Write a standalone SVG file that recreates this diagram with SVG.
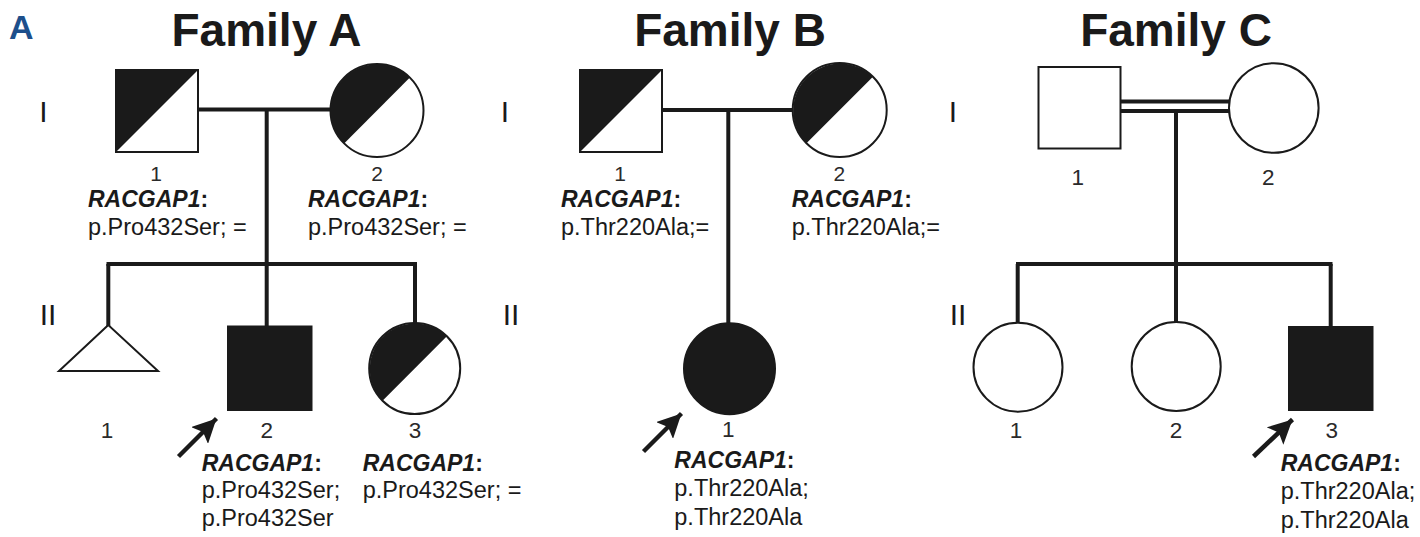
<svg xmlns="http://www.w3.org/2000/svg" width="1420" height="537" viewBox="0 0 1420 537">
  <style>
    .bg { fill: #ffffff; }
    .title { font-family: "Liberation Sans", Arial, sans-serif; font-weight: bold; font-size: 46px; fill: #1a1a1a; text-anchor: middle; }
    .panel { font-family: "Liberation Sans", Arial, sans-serif; font-weight: bold; font-size: 34px; fill: #1d4f8b; }
    .gen { font-family: "Liberation Sans", Arial, sans-serif; font-size: 30px; fill: #1a1a1a; text-anchor: middle; }
    .num { font-family: "Liberation Sans", Arial, sans-serif; font-size: 22.5px; fill: #2a2a2a; text-anchor: middle; }
    .num.tight { font-size: 21px; }
    .gene { font-family: "Liberation Sans", Arial, sans-serif; font-weight: bold; font-style: italic; font-size: 23px; fill: #1a1a1a; }
    .gene tspan.colon { font-style: normal; }
    .var { font-family: "Liberation Sans", Arial, sans-serif; font-size: 23.5px; fill: #1a1a1a; }
    .open { fill: #ffffff; stroke: #1a1a1a; stroke-width: 2; }
    .solid { fill: #1a1a1a; stroke: #1a1a1a; stroke-width: 2; }
    .half { fill: #1a1a1a; stroke: none; }
    .line { stroke: #1a1a1a; stroke-width: 4; fill: none; }
    .arrow { stroke: #1a1a1a; stroke-width: 4.5; fill: none; marker-end: url(#head); }
  </style>
  <defs>
    <marker id="head" markerUnits="userSpaceOnUse" markerWidth="26" markerHeight="24" refX="24" refY="12" orient="auto">
      <path d="M0,0 L24,12 L0,24 L5,12 Z" fill="#1a1a1a"/>
    </marker>
  </defs>
  <rect class="bg" x="0" y="0" width="1420" height="537"/>

  <!-- panel letter and family titles -->
  <text class="panel" x="9" y="39">A</text>
  <text class="title" x="266.5" y="46">Family A</text>
  <text class="title" x="730" y="46">Family B</text>
  <text class="title" x="1176" y="46">Family C</text>

  <!-- generation numerals -->
  <g id="generations">
    <text class="gen" x="43.5" y="122">I</text>
    <text class="gen" x="48" y="325">II</text>
    <text class="gen" x="505" y="122">I</text>
    <text class="gen" x="511" y="325">II</text>
    <text class="gen" x="953" y="122">I</text>
    <text class="gen" x="958" y="325">II</text>
  </g>

  <!-- connectors: mating, descent and sibship lines -->
  <g id="connectors">
    <!-- Family A -->
    <line class="line" x1="198" y1="109.5" x2="331" y2="109.5"/>
    <line class="line" x1="266.7" y1="109.5" x2="266.7" y2="264"/>
    <line class="line" x1="106.5" y1="264" x2="417" y2="264"/>
    <line class="line" x1="108.3" y1="264" x2="108.3" y2="326"/>
    <line class="line" x1="266.7" y1="264" x2="266.7" y2="327"/>
    <line class="line" x1="415" y1="264" x2="415" y2="324"/>
    <!-- Family B -->
    <line class="line" x1="662" y1="110" x2="793" y2="110"/>
    <line class="line" x1="728.3" y1="110" x2="728.3" y2="324"/>
    <!-- Family C (consanguineous double line) -->
    <line class="line" x1="1120.5" y1="101.5" x2="1230" y2="101.5"/>
    <line class="line" x1="1120.5" y1="111" x2="1230" y2="111"/>
    <line class="line" x1="1176" y1="111" x2="1176" y2="264"/>
    <line class="line" x1="1016" y1="264" x2="1332.5" y2="264"/>
    <line class="line" x1="1017.7" y1="264" x2="1017.7" y2="325"/>
    <line class="line" x1="1176" y1="264" x2="1176" y2="324"/>
    <line class="line" x1="1330.7" y1="264" x2="1330.7" y2="327"/>
  </g>

  <!-- Family A -->
  <g id="A-I-1">
    <rect class="open" x="116" y="70" width="82" height="82"/>
    <polygon class="half" points="116,70 198,70 116,152"/>
    <text class="num tight" x="156" y="181">1</text>
    <text class="gene" x="88" y="207">RACGAP1<tspan class="colon">:</tspan></text>
    <text class="var" x="88" y="235">p.Pro432Ser; =</text>
  </g>
  <g id="A-I-2">
    <circle class="open" cx="377" cy="110.5" r="46.5"/>
    <path class="half" d="M344.12,143.38 A46.5,46.5 0 0 1 409.88,77.62 Z"/>
    <text class="num tight" x="377" y="181">2</text>
    <text class="gene" x="308" y="207">RACGAP1<tspan class="colon">:</tspan></text>
    <text class="var" x="308" y="235">p.Pro432Ser; =</text>
  </g>
  <g id="A-II-1">
    <polygon class="open" points="108.3,325 59,371 158,371"/>
    <text class="num" x="107" y="438">1</text>
  </g>
  <g id="A-II-2">
    <rect class="solid" x="228" y="326.5" width="83.5" height="83.5"/>
    <text class="num" x="266.7" y="438">2</text>
    <line class="arrow" x1="178.5" y1="456.5" x2="216.5" y2="418.5"/>
    <text class="gene" x="201.7" y="471">RACGAP1<tspan class="colon">:</tspan></text>
    <text class="var" x="201.7" y="498">p.Pro432Ser;</text>
    <text class="var" x="201.7" y="526">p.Pro432Ser</text>
  </g>
  <g id="A-II-3">
    <circle class="open" cx="414.7" cy="368.5" r="45.5"/>
    <path class="half" d="M382.53,400.67 A45.5,45.5 0 0 1 446.87,336.33 Z"/>
    <text class="num" x="415" y="438">3</text>
    <text class="gene" x="362.7" y="471">RACGAP1<tspan class="colon">:</tspan></text>
    <text class="var" x="362.7" y="498">p.Pro432Ser; =</text>
  </g>

  <!-- Family B -->
  <g id="B-I-1">
    <rect class="open" x="580" y="70" width="82" height="82"/>
    <polygon class="half" points="580,70 662,70 580,152"/>
    <text class="num tight" x="620" y="181">1</text>
    <text class="gene" x="561" y="207">RACGAP1<tspan class="colon">:</tspan></text>
    <text class="var" x="561" y="235">p.Thr220Ala;=</text>
  </g>
  <g id="B-I-2">
    <circle class="open" cx="839.7" cy="110" r="47"/>
    <path class="half" d="M806.47,143.23 A47,47 0 0 1 872.93,76.77 Z"/>
    <text class="num tight" x="839.3" y="181">2</text>
    <text class="gene" x="791.7" y="207">RACGAP1<tspan class="colon">:</tspan></text>
    <text class="var" x="791.7" y="235">p.Thr220Ala;=</text>
  </g>
  <g id="B-II-1">
    <circle class="solid" cx="729.5" cy="368.7" r="45.5"/>
    <text class="num" x="728.3" y="436.5">1</text>
    <line class="arrow" x1="643.5" y1="451.5" x2="681.5" y2="413.5"/>
    <text class="gene" x="674.3" y="468">RACGAP1<tspan class="colon">:</tspan></text>
    <text class="var" x="674.3" y="496">p.Thr220Ala;</text>
    <text class="var" x="674.3" y="525">p.Thr220Ala</text>
  </g>

  <!-- Family C -->
  <g id="C-I-1">
    <rect class="open" x="1038.5" y="67" width="82" height="81.5"/>
    <text class="num" x="1077.7" y="185">1</text>
  </g>
  <g id="C-I-2">
    <circle class="open" cx="1273.8" cy="108" r="44.8"/>
    <text class="num" x="1268.3" y="185">2</text>
  </g>
  <g id="C-II-1">
    <circle class="open" cx="1018" cy="367.2" r="44.5"/>
    <text class="num" x="1016" y="438">1</text>
  </g>
  <g id="C-II-2">
    <circle class="open" cx="1176.2" cy="366.5" r="44.5"/>
    <text class="num" x="1176" y="438">2</text>
  </g>
  <g id="C-II-3">
    <rect class="solid" x="1289" y="327" width="83.5" height="83"/>
    <text class="num" x="1331.7" y="438">3</text>
    <line class="arrow" x1="1253.5" y1="456.5" x2="1292.5" y2="419.5"/>
    <text class="gene" x="1280.7" y="471">RACGAP1<tspan class="colon">:</tspan></text>
    <text class="var" x="1280.7" y="499">p.Thr220Ala;</text>
    <text class="var" x="1280.7" y="528">p.Thr220Ala</text>
  </g>
</svg>
